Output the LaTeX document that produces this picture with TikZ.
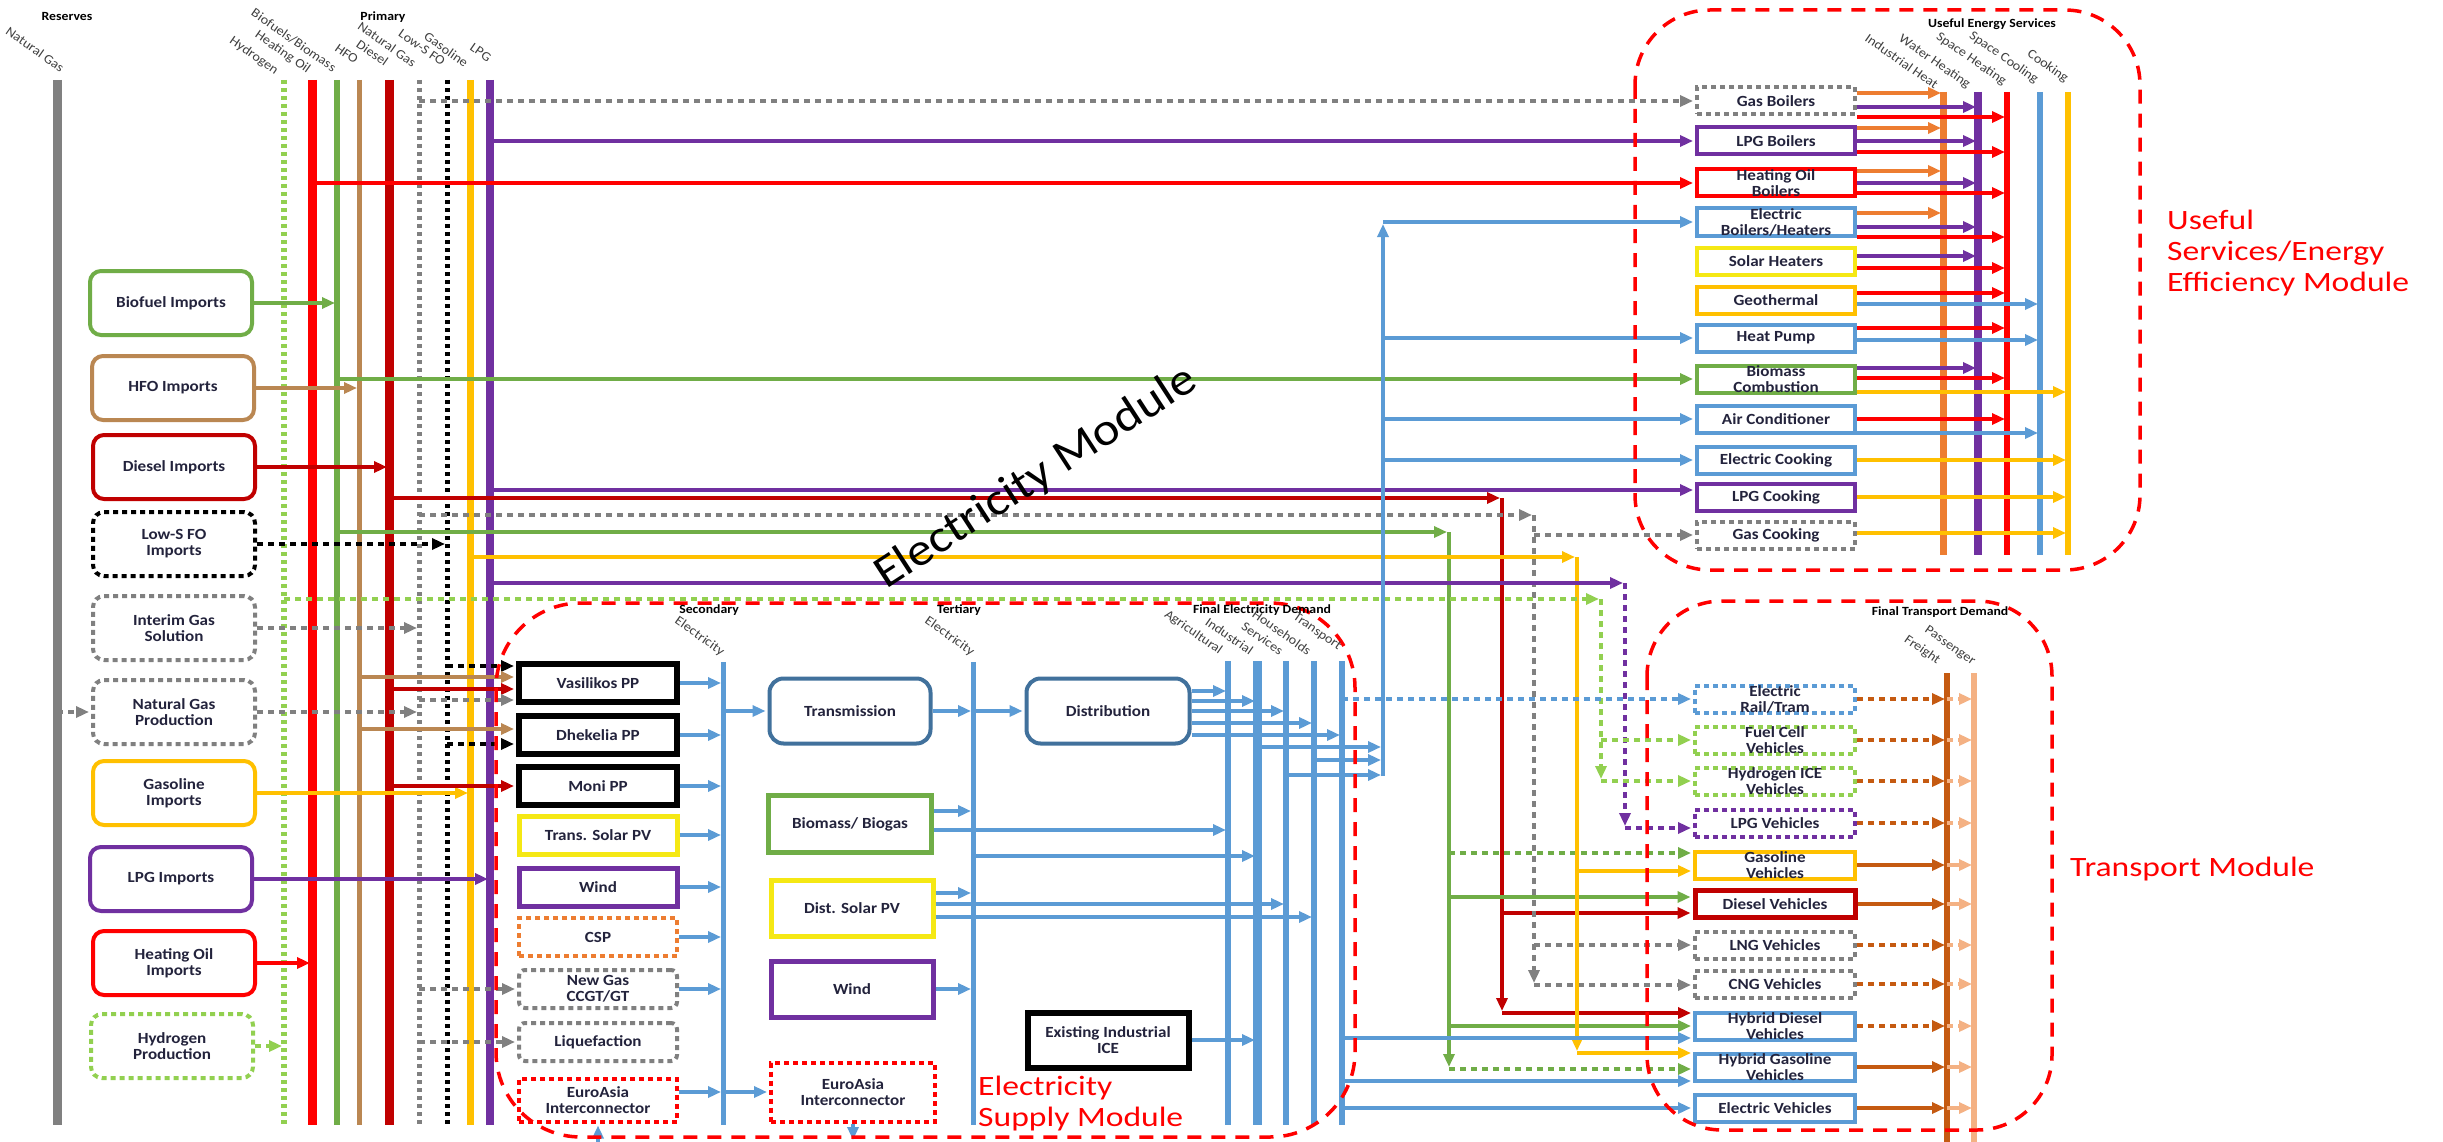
\documentclass[tikz,border=0pt]{standalone}
\usepackage{fontspec}
\setmainfont{Carlito}[FakeStretch=1.1]
\newfontfamily\modfont{Carlito}[FakeStretch=1.2]
\usetikzlibrary{arrows.meta}
\definecolor{cGreen}{RGB}{112,173,71}
\definecolor{cBrown}{RGB}{186,135,82}
\definecolor{cDRed}{RGB}{192,0,0}
\definecolor{cRed}{RGB}{255,0,0}
\definecolor{cGold}{RGB}{255,192,0}
\definecolor{cPurp}{RGB}{112,48,160}
\definecolor{cGrey}{RGB}{128,128,128}
\definecolor{cLGreen}{RGB}{146,208,80}
\definecolor{cBlue}{RGB}{91,155,213}
\definecolor{cSteel}{RGB}{65,113,156}
\definecolor{cYel}{RGB}{245,232,20}
\definecolor{cOrange}{RGB}{237,125,49}
\definecolor{cFreight}{RGB}{197,90,17}
\definecolor{cPass}{RGB}{244,177,131}
\definecolor{cTxt}{RGB}{35,35,60}
\newcommand\tl[1]{\smash{\raisebox{-5.5pt}{\begin{tabular}{@{}c@{}}#1\end{tabular}}}}
\begin{document}
\begin{tikzpicture}[x=1pt,y=-1pt,
  arr/.style={-{Triangle[length=13pt,width=11pt]}, line width=3.5pt, shorten >=2pt},
  dl/.style={dash pattern=on 6pt off 5pt},
  dotb/.style={dash pattern=on 5pt off 4pt},
  bx/.style={draw, fill=white, line width=4pt, inner sep=1pt, font=\fontsize{15.5}{16}\selectfont\bfseries, text=cTxt, align=center},
  imp/.style={bx, rounded corners=11pt, minimum width=162pt, minimum height=64pt},
  pp/.style={bx, minimum width=158pt, minimum height=38pt},
  ub/.style={bx, minimum width=158pt, minimum height=27pt},
  tb/.style={bx, minimum width=160pt, minimum height=27pt},
  hdr/.style={font=\fontsize{12.5}{13}\selectfont\bfseries, text=black, inner sep=0pt},
  rl/.style={font=\fontsize{13}{14}\selectfont, text=black!75, rotate=-35, anchor=east, inner sep=0pt},
  mod/.style={draw=cRed, dash pattern=on 14pt off 10pt, line width=3.5pt, rounded corners=75pt},
  modl/.style={font=\modfont\fontsize{28}{31}\selectfont, text=cRed, align=left, inner sep=0pt}
]
\fill[white] (0,0) rectangle (2443,1142);
\useasboundingbox (0,0) rectangle (2443,1142);

% ---------- coordinates of buses ----------
\coordinate (bot) at (0,1125);
\coordinate (pRes) at (57,80);
\coordinate (pH2) at (284,80);
\coordinate (pHO) at (312,80);
\coordinate (pBio) at (337,80);
\coordinate (pHFO) at (359,80);
\coordinate (pDsl) at (389,80);
\coordinate (pNG) at (419,80);
\coordinate (pLS) at (447,80);
\coordinate (pGas) at (470,80);
\coordinate (pLPG) at (490,80);

\coordinate (sec) at (723,662);
\coordinate (ter) at (973,662);
\coordinate (fAg) at (1228,661);
\coordinate (fInd) at (1257,661);
\coordinate (fSer) at (1286,661);
\coordinate (fHH) at (1314,661);
\coordinate (fTr) at (1342,661);
\coordinate (eT) at (1383,222);
\coordinate (eB) at (1383,776);

\coordinate (ub) at (0,555);
\coordinate (uIH) at (1943,92);
\coordinate (uWH) at (1978,92);
\coordinate (uSH) at (2007,92);
\coordinate (uSC) at (2040,92);
\coordinate (uCK) at (2068,92);

\coordinate (tbot) at (0,1142);
\coordinate (tF) at (1947,673);
\coordinate (tP) at (1974,673);

\coordinate (dT) at (1502,498);  \coordinate (dB) at (1502,1013);
\coordinate (gT) at (1534,515);  \coordinate (gB) at (1534,985);
\coordinate (bT) at (1449,532);  \coordinate (bB) at (1449,1069);
\coordinate (yT) at (1577,557);  \coordinate (yB) at (1577,1053);
\coordinate (uT) at (1625,583);  \coordinate (uB) at (1625,828);
\coordinate (hT) at (1601,599);  \coordinate (hB) at (1601,781);
\coordinate (bb1) at (598,1142);
\coordinate (bb2) at (853,1142);

% ---------- vertical buses ----------
\draw[cGrey, line width=9pt] (pRes) -- (pRes |- bot);
\draw[cLGreen, line width=6pt, dash pattern=on 4pt off 4pt] (pH2) -- (pH2 |- bot);
\draw[cRed, line width=9pt] (pHO) -- (pHO |- bot);
\draw[cGreen, line width=6pt] (pBio) -- (pBio |- bot);
\draw[cBrown, line width=5pt] (pHFO) -- (pHFO |- bot);
\draw[cDRed, line width=9pt] (pDsl) -- (pDsl |- bot);
\draw[cGrey, line width=5pt, dash pattern=on 4pt off 4pt] (pNG) -- (pNG |- bot);
\draw[black, line width=5pt, dash pattern=on 4pt off 4pt] (pLS) -- (pLS |- bot);
\draw[cGold, line width=7pt] (pGas) -- (pGas |- bot);
\draw[cPurp, line width=8pt] (pLPG) -- (pLPG |- bot);

\draw[cBlue, line width=5pt] (sec) -- (sec |- bot);
\draw[cBlue, line width=5pt] (ter) -- (ter |- bot);
\draw[cBlue, line width=6pt] (fAg) -- (fAg |- bot);
\draw[cBlue, line width=9pt] (fInd) -- (fInd |- bot);
\draw[cBlue, line width=6pt] (fSer) -- (fSer |- bot);
\draw[cBlue, line width=6pt] (fHH) -- (fHH |- bot);
\draw[cBlue, line width=6pt] (fTr) -- (fTr |- bot);

\draw[cOrange, line width=7pt] (uIH) -- (uIH |- ub);
\draw[cPurp, line width=8pt] (uWH) -- (uWH |- ub);
\draw[cRed, line width=6pt] (uSH) -- (uSH |- ub);
\draw[cBlue, line width=6pt] (uSC) -- (uSC |- ub);
\draw[cGold, line width=6pt] (uCK) -- (uCK |- ub);

\draw[cFreight, line width=6pt] (tF) -- (tF |- tbot);
\draw[cPass, line width=6pt] (tP) -- (tP |- tbot);

% ---------- import boxes ----------
\node[imp, draw=cGreen] (biofuel) at (171,303) {Biofuel Imports};
\node[imp, draw=cBrown] (hfoimp) at (173,388) {HFO Imports};
\node[imp, draw=cDRed] (dslimp) at (174,467) {Diesel Imports};
\node[imp, draw=black, dotb] (lsimp) at (174,544) {Low-S FO\\Imports};
\node[imp, draw=cGrey, dotb] (interim) at (174,628) {Interim Gas\\Solution};
\node[imp, draw=cGrey, dotb] (ngprod) at (174,712) {Natural Gas\\Production};
\node[imp, draw=cGold] (gasimp) at (174,793) {Gasoline\\Imports};
\node[imp, draw=cPurp] (lpgimp) at (171,879) {LPG Imports};
\node[imp, draw=cRed] (hoimp) at (174,963) {Heating Oil\\Imports};
\node[imp, draw=cLGreen, dotb] (h2prod) at (172,1046) {Hydrogen\\Production};

% ---------- power plants ----------
\node[pp, draw=black, line width=6pt] (vasil) at (598,683) {Vasilikos PP};
\node[pp, draw=black, line width=6pt] (dhek) at (598,735) {Dhekelia PP};
\node[pp, draw=black, line width=6pt] (moni) at (598,786) {Moni PP};
\node[pp, draw=cYel, line width=5pt] (tsolar) at (598,835) {Trans. Solar PV};
\node[pp, draw=cPurp, line width=5pt] (wind1) at (598,887) {Wind};
\node[pp, draw=cOrange, dotb] (csp) at (598,937) {CSP};
\node[pp, draw=cGrey, dotb, rounded corners=6pt] (newgas) at (598,989) {New Gas\\CCGT/GT};
\node[pp, draw=cGrey, dotb, rounded corners=6pt] (liquef) at (598,1042) {Liquefaction};
\node[pp, draw=cRed, dotb, minimum height=43pt] (euro1) at (598,1100) {EuroAsia\\Interconnector};

% ---------- grid ----------
\node[bx, draw=cSteel, rounded corners=14pt, minimum width=161pt, minimum height=65pt] (trans) at (850,711) {Transmission};
\node[bx, draw=cSteel, rounded corners=14pt, minimum width=163pt, minimum height=65pt] (dist) at (1108,711) {Distribution};
\node[bx, draw=cGreen, line width=5pt, minimum width=163pt, minimum height=57pt] (biomass) at (850,824) {Biomass/ Biogas};
\node[bx, draw=cYel, line width=5pt, minimum width=162pt, minimum height=56pt] (dsolar) at (852,908) {Dist. Solar PV};
\node[bx, draw=cPurp, line width=5pt, minimum width=162pt, minimum height=56pt] (wind2) at (852,989) {Wind};
\node[bx, draw=cRed, dotb, minimum width=164pt, minimum height=59pt] (euro2) at (853,1092) {EuroAsia\\Interconnector};
\node[bx, draw=black, line width=6pt, minimum width=161pt, minimum height=55pt] (exind) at (1108,1040) {Existing Industrial\\ICE};

% ---------- useful energy boxes ----------
\node[ub, draw=cGrey, dotb] (gasboil) at (1776,101) {Gas Boilers};
\node[ub, draw=cPurp] (lpgboil) at (1776,141) {LPG Boilers};
\node[ub, draw=cRed] (hoboil) at (1776,183) {\tl{Heating Oil\\Boilers}};
\node[ub, draw=cBlue] (eboil) at (1776,222) {\tl{Electric\\Boilers/Heaters}};
\node[ub, draw=cYel] (solarh) at (1776,261) {Solar Heaters};
\node[ub, draw=cGold] (geo) at (1776,300) {Geothermal};
\node[ub, draw=cBlue] (hpump) at (1776,338) {Heat Pump};
\node[ub, draw=cGreen] (biocomb) at (1776,379) {\tl{Biomass\\Combustion}};
\node[ub, draw=cBlue] (aircon) at (1776,419) {Air Conditioner};
\node[ub, draw=cBlue] (ecook) at (1776,460) {Electric Cooking};
\node[ub, draw=cPurp] (lpgcook) at (1776,497) {LPG Cooking};
\node[ub, draw=cGrey, dotb] (gascook) at (1776,535) {Gas Cooking};

% ---------- transport boxes ----------
\node[tb, draw=cBlue, dotb] (rail) at (1775,699) {\tl{Electric\\Rail/Tram}};
\node[tb, draw=cLGreen, dotb] (fcv) at (1775,740) {\tl{Fuel Cell\\Vehicles}};
\node[tb, draw=cLGreen, dotb] (h2ice) at (1775,781) {\tl{Hydrogen ICE\\Vehicles}};
\node[tb, draw=cPurp, dotb] (lpgv) at (1775,823) {LPG Vehicles};
\node[tb, draw=cGold] (gasv) at (1775,865) {\tl{Gasoline\\Vehicles}};
\node[tb, draw=cDRed, line width=5pt] (dieselv) at (1775,904) {Diesel Vehicles};
\node[tb, draw=cGrey, dotb] (lngv) at (1775,945) {LNG Vehicles};
\node[tb, draw=cGrey, dotb] (cngv) at (1775,984) {CNG Vehicles};
\node[tb, draw=cBlue] (hdv) at (1775,1026) {\tl{Hybrid Diesel\\Vehicles}};
\node[tb, draw=cBlue] (hgv) at (1775,1067) {\tl{Hybrid Gasoline\\Vehicles}};
\node[tb, draw=cBlue] (ev) at (1775,1108) {Electric Vehicles};

% ---------- imports to primary ----------
\draw[arr,cGreen] (biofuel.east) -- (biofuel.east -| pBio);
\draw[arr,cBrown] (hfoimp.east) -- (hfoimp.east -| pHFO);
\draw[arr,cDRed] (dslimp.east) -- (dslimp.east -| pDsl);
\draw[arr,black,dl] (lsimp.east) -- (lsimp.east -| pLS);
\draw[arr,cGrey,dl] (interim.east) -- (interim.east -| pNG);
\draw[arr,cGrey,dl] (ngprod.east) -- (ngprod.east -| pNG);
\draw[arr,cGrey,dl] (ngprod.west -| pRes) -- (ngprod.west);
\draw[arr,cGold] (gasimp.east) -- (gasimp.east -| pGas);
\draw[arr,cPurp] (lpgimp.east) -- (lpgimp.east -| pLPG);
\draw[arr,cRed] (hoimp.east) -- (hoimp.east -| pHO);
\draw[arr,cLGreen,dl] (h2prod.east) -- (h2prod.east -| pH2);

% ---------- primary to useful ----------
\draw[arr,cGrey,dl] (gasboil.west -| pNG) -- (gasboil.west);
\draw[arr,cPurp] (lpgboil.west -| pLPG) -- (lpgboil.west);
\draw[arr,cRed] (hoboil.west -| pHO) -- (hoboil.west);
\draw[arr,cGreen] (biocomb.west -| pBio) -- (biocomb.west);
\draw[arr,cPurp] ([yshift=7pt]lpgcook.west -| pLPG) -- ([yshift=7pt]lpgcook.west);

% ---------- primary to transport (elbows) ----------
\draw[arr,cDRed] (pDsl |- dT) -- (dT);
\draw[arr,cDRed] (dT) -- (dB);
\draw[arr,cDRed] (dB) -- (dB -| hdv.west);
\draw[arr,cDRed] ([yshift=-9pt]dieselv.west -| dT) -- ([yshift=-9pt]dieselv.west);

\draw[arr,cGrey,dl] (pNG |- gT) -- (gT);
\draw[arr,cGrey,dl] (gT) -- (gB);
\draw[arr,cGrey,dl] (gB) -- (gB -| cngv.west);
\draw[arr,cGrey,dl] (gascook.west -| gT) -- (gascook.west);
\draw[arr,cGrey,dl] (lngv.west -| gT) -- (lngv.west);

\draw[arr,cGreen] (pBio |- bT) -- (bT);
\draw[arr,cGreen] (bT) -- (bB);
\draw[arr,cGreen,dl] (bB) -- (bB -| hgv.west);
\draw[arr,cGreen,dl] ([yshift=12pt]gasv.west -| bT) -- ([yshift=12pt]gasv.west);
\draw[arr,cGreen] ([yshift=7pt]dieselv.west -| bT) -- ([yshift=7pt]dieselv.west);
\draw[arr,cGreen] (hdv.west -| bT) -- (hdv.west);

\draw[arr,cGold] (pGas |- yT) -- (yT);
\draw[arr,cGold] (yT) -- (yB);
\draw[arr,cGold] (yB) -- (yB -| hgv.west);
\draw[arr,cGold] ([yshift=-6pt]gasv.west -| yT) -- ([yshift=-6pt]gasv.west);

\draw[arr,cPurp] (pLPG |- uT) -- (uT);
\draw[arr,cPurp,dl] (uT) -- (uB);
\draw[arr,cPurp,dl] (uB) -- (uB -| lpgv.west);

\draw[arr,cLGreen,dl] (pH2 |- hT) -- (hT);
\draw[arr,cLGreen,dl] (hT) -- (hB);
\draw[arr,cLGreen,dl] (hB) -- (hB -| h2ice.west);
\draw[arr,cLGreen,dl] (fcv.west -| hT) -- (fcv.west);

% ---------- primary to power plants ----------
\draw[arr,black,dl] ([yshift=17pt]vasil.west -| pLS) -- ([yshift=17pt]vasil.west);
\draw[arr,cBrown] ([yshift=6pt]vasil.west -| pHFO) -- ([yshift=6pt]vasil.west);
\draw[arr,cDRed] ([yshift=-6pt]vasil.west -| pDsl) -- ([yshift=-6pt]vasil.west);
\draw[arr,cGrey,dl] ([yshift=-17pt]vasil.west -| pNG) -- ([yshift=-17pt]vasil.west);
\draw[arr,cBrown] ([yshift=6pt]dhek.west -| pHFO) -- ([yshift=6pt]dhek.west);
\draw[arr,black,dl] ([yshift=-9pt]dhek.west -| pLS) -- ([yshift=-9pt]dhek.west);
\draw[arr,cDRed] (moni.west -| pDsl) -- (moni.west);
\draw[arr,cGrey,dl] (newgas.west -| pNG) -- (newgas.west);
\draw[arr,cGrey,dl] (liquef.west -| pNG) -- (liquef.west);

% ---------- electricity ----------
\foreach \n in {vasil,dhek,moni,tsolar,wind1,csp,newgas}
  \draw[arr,cBlue] (\n.east) -- (\n.east -| sec);
\draw[arr,cBlue] ([yshift=8pt]euro1.east) -- ([yshift=8pt]euro1.east -| sec);
\draw[arr,cBlue] (trans.west -| sec) -- (trans.west);
\draw[arr,cBlue] (trans.east) -- (trans.east -| ter);
\draw[arr,cBlue] (dist.west -| ter) -- (dist.west);
\draw[arr,cBlue] (euro2.west -| sec) -- (euro2.west);
\draw[arr,cBlue] ([yshift=13pt]biomass.east) -- ([yshift=13pt]biomass.east -| ter);
\draw[arr,cBlue] ([yshift=-6pt]biomass.east) -- ([yshift=-6pt]biomass.east -| fAg);
\draw[arr,cBlue] ([yshift=-32pt]biomass.east -| ter) -- ([yshift=-32pt]biomass.east -| fInd);
\draw[arr,cBlue] ([yshift=15pt]dsolar.east) -- ([yshift=15pt]dsolar.east -| ter);
\draw[arr,cBlue] ([yshift=4pt]dsolar.east) -- ([yshift=4pt]dsolar.east -| fSer);
\draw[arr,cBlue] ([yshift=-9pt]dsolar.east) -- ([yshift=-9pt]dsolar.east -| fHH);
\draw[arr,cBlue] (wind2.east) -- (wind2.east -| ter);
\draw[arr,cBlue] (exind.east) -- (exind.east -| fInd);
\draw[arr,cBlue] ([yshift=20pt]dist.east) -- ([yshift=20pt]dist.east -| fAg);
\draw[arr,cBlue] ([yshift=10pt]dist.east) -- ([yshift=10pt]dist.east -| fInd);
\draw[arr,cBlue] (dist.east) -- (dist.east -| fSer);
\draw[arr,cBlue] ([yshift=-12pt]dist.east) -- ([yshift=-12pt]dist.east -| fHH);
\draw[arr,cBlue] ([yshift=-24pt]dist.east) -- ([yshift=-24pt]dist.east -| fTr);
\draw[arr,cBlue] ([yshift=-36pt]dist.east -| fInd) -- ([yshift=-36pt]dist.east -| eB);
\draw[arr,cBlue] ([yshift=-49pt]dist.east -| fHH) -- ([yshift=-49pt]dist.east -| eB);
\draw[arr,cBlue] ([yshift=-64pt]dist.east -| fSer) -- ([yshift=-64pt]dist.east -| eB);
\draw[arr,cBlue] (eB) -- (eT);
\draw[arr,cBlue] (eT) -- (eT -| eboil.west);
\draw[arr,cBlue] (hpump.west -| eT) -- (hpump.west);
\draw[arr,cBlue] (aircon.west -| eT) -- (aircon.west);
\draw[arr,cBlue] (ecook.west -| eT) -- (ecook.west);
\draw[arr,cBlue,dl] (rail.west -| fTr) -- (rail.west);
\draw[arr,cBlue] ([yshift=-12pt]hdv.west -| fTr) -- ([yshift=-12pt]hdv.west);
\draw[arr,cBlue] ([yshift=-14pt]hgv.west -| fTr) -- ([yshift=-14pt]hgv.west);
\draw[arr,cBlue] (ev.west -| fTr) -- (ev.west);
\draw[arr,cBlue] (bb1) -- (euro1.south);
\draw[arr,cBlue] (euro2.south) -- (bb2);

% ---------- useful outputs ----------
\foreach \b/\s/\u/\c in {gasboil/8/uIH/cOrange, gasboil/-6/uWH/cPurp, gasboil/-16/uSH/cRed,
  lpgboil/13/uIH/cOrange, lpgboil/0/uWH/cPurp, lpgboil/-11/uSH/cRed,
  hoboil/12/uIH/cOrange, hoboil/0/uWH/cPurp, hoboil/-10/uSH/cRed,
  eboil/9/uIH/cOrange, eboil/-5/uWH/cPurp, eboil/-15/uSH/cRed,
  solarh/5/uWH/cPurp, solarh/-7/uSH/cRed,
  geo/7/uSH/cRed, geo/-4/uSC/cBlue,
  hpump/10/uSH/cRed, hpump/-2/uSC/cBlue,
  biocomb/11/uWH/cPurp, biocomb/1/uSH/cRed, biocomb/-13/uCK/cGold,
  aircon/0/uSH/cRed, aircon/-14/uSC/cBlue,
  ecook/0/uCK/cGold, lpgcook/0/uCK/cGold, gascook/2/uCK/cGold}
  \draw[arr,\c] ([yshift=\s pt]\b.east) -- ([yshift=\s pt]\b.east -| \u);

% ---------- transport outputs ----------
\foreach \b/\st in {rail/dl, fcv/dl, h2ice/dl, lpgv/dl, gasv/solid, dieselv/solid, lngv/dl, cngv/dl, hdv/dl, hgv/solid, ev/solid}{
  \draw[arr,cFreight,\st] (\b.east) -- (\b.east -| tF);
  \draw[arr,cPass,\st] (\b.east -| tF) -- (\b.east -| tP);
}

% ---------- modules ----------
\draw[mod] (1635,10) rectangle (2140,570);
\draw[mod] (1647,601) rectangle (2052,1130);
\draw[mod, rounded corners=85pt] (496,603) rectangle (1355,1137);

% ---------- headings ----------
\node[hdr] (hRes) at (67,16) {Reserves};
\node[hdr] (hPri) at (383,17) {Primary};
\node[hdr] (hSec) at (709,610) {Secondary};
\node[hdr] (hTer) at (959,610) {Tertiary};
\node[hdr] (hFED) at (1262,610) {Final Electricity Demand};
\node[hdr] (hUES) at (1992,24) {Useful Energy Services};
\node[hdr] (hFTD) at (1940,612) {Final Transport Demand};

\node[rl] (lRes) at (63,69) {Natural Gas};
\node[rl] (lH2) at (277,72) {Hydrogen};
\node[rl] (lHO) at (309,71) {Heating Oil};
\node[rl] (lBio) at (335,69) {Biofuels/Biomass};
\node[rl] (lHFO) at (357,61) {HFO};
\node[rl] (lDsl) at (387,63) {Diesel};
\node[rl] (lNG) at (415,64) {Natural Gas};
\node[rl] (lLS) at (444,63) {Low-S FO};
\node[rl] (lGas) at (467,64) {Gasoline};
\node[rl] (lLPG) at (490,59) {LPG};

\node[rl] (lSecE) at (723,653) {Electricity};
\node[rl] (lTerE) at (973,653) {Electricity};
\node[rl] (lAg) at (1221,652) {Agricultural};
\node[rl] (lInd) at (1252,652) {Industrial};
\node[rl] (lSer) at (1282,652) {Services};
\node[rl] (lHH) at (1310,652) {Households};
\node[rl] (lTr) at (1340,648) {Transport};
\node[rl] (lFr) at (1939,662) {Freight};
\node[rl] (lPa) at (1974,663) {Passenger};

\node[rl] (lIH) at (1937,86) {Industrial Heat};
\node[rl] (lWH) at (1969,86) {Water Heating};
\node[rl] (lSH) at (2005,83) {Space Heating};
\node[rl] (lSC) at (2037,81) {Space Cooling};
\node[rl] (lCK) at (2067,80) {Cooking};

\node[modl, anchor=west] (usemodl) at (2167,253) {Useful\\Services/Energy\\Efficiency Module};
\node[modl, anchor=west] (trmodl) at (2070,869) {Transport Module};
\node[modl, anchor=west] (elmodl) at (978,1104) {Electricity\\Supply Module};
\node[rotate=33, font=\fontsize{46}{46}\selectfont, text=black, inner sep=0pt] (emod) at (1036,478) {Electricity Module};
\end{tikzpicture}
\end{document}
